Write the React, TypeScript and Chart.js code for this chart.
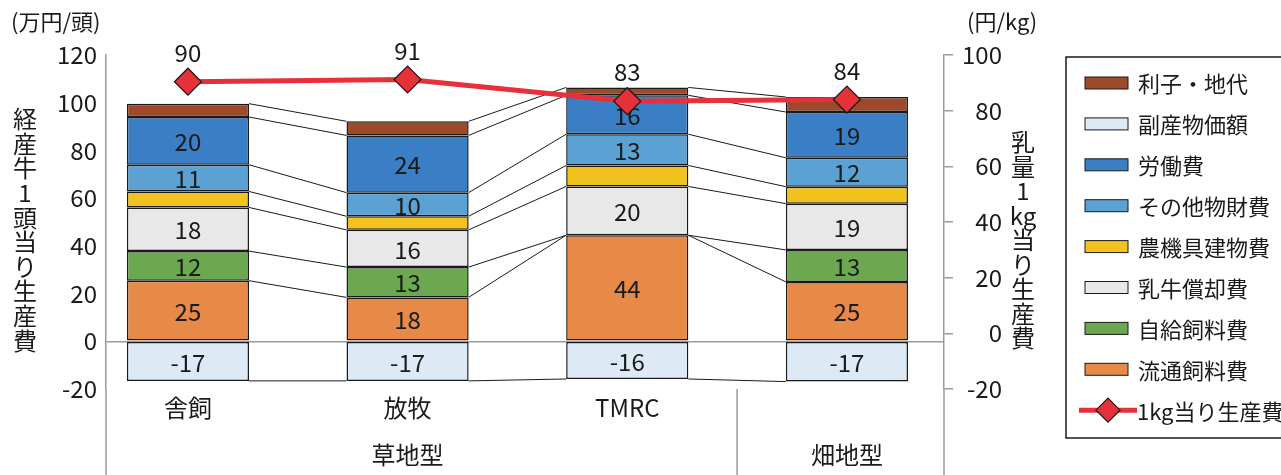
import React, { useEffect, useRef } from 'react';
import { Chart, registerables } from 'chart.js';

Chart.register(...registerables);

// ---------- data ----------
const categories = ['舎飼', '放牧', 'TMRC', ''];
const groupLabels = ['草地型', '畑地型'];
const groupMembers = [[0, 1, 2], [3]];

const purchasedFeed = [25.4, 18.4, 44.45, 24.9]; // 流通飼料費
const ownFeed = [12.4, 12.7, 0, 13.4]; // 自給飼料費
const cowDepreciation = [18.3, 15.6, 20.45, 19.4]; // 乳牛償却費
const machineryBuilding = [6.7, 5.7, 8.8, 7.1]; // 農機具建物費
const otherMaterial = [11.2, 9.9, 13.1, 12.1]; // その他物財費
const labor = [20.0, 24.0, 16.3, 19.2]; // 労働費
const interestRent = [5.6, 5.9, 3.3, 6.3]; // 利子・地代
const byproductValue = [-16.6, -16.6, -15.8, -16.9]; // 副産物価額
const costPerKg = [90.4, 91.2, 83.4, 84.0]; // 1kg当り生産費

const leftRange = [-20, 120];
const rightRange = [-20, 100];
const tickStep = 20;

const leftUnit = '(万円/頭)';
const rightUnit = '(円/kg)';
const leftTitle = '経産牛1頭当り生産費';
const rightTitle = '乳量1kg当り生産費';
const lineName = '1kg当り生産費';

const legendOrder = ['利子・地代', '副産物価額', '労働費', 'その他物財費', '農機具建物費', '乳牛償却費', '自給飼料費', '流通飼料費', lineName];

// ---------- styles ----------
const FONT = '"Noto Sans CJK JP", "Noto Sans", sans-serif';
const TXT = '#1a1a1a';
const AXIS = '#9a9a9a';
const RED = '#E6303A';

const barSeries = [
  { name: '流通飼料費', data: purchasedFeed, color: '#E88A47', showValue: true },
  { name: '自給飼料費', data: ownFeed, color: '#6BA84F', showValue: true },
  { name: '乳牛償却費', data: cowDepreciation, color: '#E8E8E8', showValue: true },
  { name: '農機具建物費', data: machineryBuilding, color: '#F2C31E', showValue: false },
  { name: 'その他物財費', data: otherMaterial, color: '#5BA1D3', showValue: true },
  { name: '労働費', data: labor, color: '#3A7EC5', showValue: true },
  { name: '利子・地代', data: interestRent, color: '#9E4A2A', showValue: false },
  { name: '副産物価額', data: byproductValue, color: '#DDEAF6', showValue: true },
];

const overlay = {
  id: 'overlay',
  beforeDatasetsDraw(chart: any) {
    const ctx = chart.ctx;
    ctx.save();
    ctx.strokeStyle = TXT;
    ctx.lineWidth = 1;
    chart.data.datasets.forEach((ds: any, di: number) => {
      if (ds.type !== 'bar') return;
      const meta = chart.getDatasetMeta(di);
      for (let i = 0; i < meta.data.length - 1; i++) {
        const a = meta.data[i];
        const b = meta.data[i + 1];
        ctx.beginPath();
        ctx.moveTo(a.x + a.width / 2, a.y);
        ctx.lineTo(b.x - b.width / 2, b.y);
        ctx.stroke();
      }
    });
    ctx.restore();
  },
  afterDatasetDraw(chart: any, args: any) {
    const ds = chart.data.datasets[args.index];
    if (ds.type !== 'bar' || !ds.showValue) return;
    const ctx = chart.ctx;
    ctx.save();
    ctx.font = `24px ${FONT}`;
    ctx.fillStyle = TXT;
    ctx.textAlign = 'center';
    ctx.textBaseline = 'middle';
    args.meta.data.forEach((el: any, i: number) => {
      const v = Math.round(ds.data[i].y);
      if (v === 0) return;
      ctx.fillText(String(v), el.x, (el.y + el.base) / 2 + 1);
    });
    ctx.restore();
  },
  afterDatasetsDraw(chart: any) {
    const ctx = chart.ctx;
    ctx.save();
    ctx.font = `24px ${FONT}`;
    ctx.fillStyle = TXT;
    ctx.textAlign = 'center';
    ctx.textBaseline = 'middle';
    chart.data.datasets.forEach((ds: any, di: number) => {
      if (ds.type !== 'line') return;
      chart.getDatasetMeta(di).data.forEach((p: any, i: number) => {
        ctx.fillText(String(Math.round(ds.data[i].y)), p.x, p.y - 29);
      });
    });
    ctx.restore();
  },
  afterDraw(chart: any) {
    const ctx = chart.ctx;
    const area = chart.chartArea;
    const xs = chart.scales.x;
    const H = chart.height;
    ctx.save();
    // axis extensions and group separators
    ctx.strokeStyle = AXIS;
    ctx.lineWidth = 1.5;
    const seps = [area.left, xs.getPixelForValue(2.5), area.right];
    seps.forEach((x) => {
      ctx.beginPath();
      ctx.moveTo(x, area.bottom);
      ctx.lineTo(x, H);
      ctx.stroke();
    });
    // group labels
    ctx.fillStyle = TXT;
    ctx.font = `24px ${FONT}`;
    ctx.textAlign = 'center';
    ctx.textBaseline = 'middle';
    groupLabels.forEach((g, gi) => {
      const m = groupMembers[gi];
      const x = m.reduce((s, i) => s + xs.getPixelForValue(i), 0) / m.length;
      ctx.fillText(g, x, 455);
    });
    // units
    ctx.font = `22px ${FONT}`;
    ctx.textAlign = 'left';
    ctx.fillText(leftUnit, 11, 22);
    ctx.fillText(rightUnit, 967, 22);
    // vertical titles
    ctx.font = `24px ${FONT}`;
    ctx.textAlign = 'center';
    const lchars = leftTitle.match(/[A-Za-z]+|./gu) || [];
    lchars.forEach((c, i) => ctx.fillText(c, 25, 119 + i * 24.6));
    const rchars = rightTitle.match(/[A-Za-z]+|./gu) || [];
    rchars.forEach((c, i) => ctx.fillText(c, 1023, 142 + i * 24.5));
    // legend
    ctx.strokeStyle = TXT;
    ctx.lineWidth = 1.5;
    ctx.strokeRect(1066, 57, 300, 381);
    ctx.font = `22px ${FONT}`;
    ctx.textAlign = 'left';
    legendOrder.forEach((name, i) => {
      const y = 83 + i * 40.9;
      const ds = chart.data.datasets.find((d: any) => d.label === name);
      if (!ds) return;
      if (ds.type === 'bar') {
        ctx.fillStyle = ds.backgroundColor;
        ctx.fillRect(1085, y - 6, 43, 12);
        ctx.strokeStyle = TXT;
        ctx.lineWidth = 1;
        ctx.strokeRect(1085, y - 6, 43, 12);
      } else {
        ctx.strokeStyle = RED;
        ctx.lineWidth = 5;
        ctx.beginPath();
        ctx.moveTo(1079, y);
        ctx.lineTo(1137, y);
        ctx.stroke();
        ctx.beginPath();
        ctx.moveTo(1108 - 12, y);
        ctx.lineTo(1108, y - 12);
        ctx.lineTo(1108 + 12, y);
        ctx.lineTo(1108, y + 12);
        ctx.closePath();
        ctx.fillStyle = RED;
        ctx.fill();
        ctx.strokeStyle = TXT;
        ctx.lineWidth = 1.2;
        ctx.stroke();
      }
      ctx.fillStyle = TXT;
      ctx.fillText(name, ds.type === 'bar' ? 1138 : 1137, y + 1);
    });
    ctx.restore();
  },
};

export default function App() {
  const ref = useRef<HTMLCanvasElement | null>(null);
  useEffect(() => {
    if (!ref.current) return;
    const datasets: any[] = barSeries.map((s) => ({
      type: 'bar',
      label: s.name,
      data: s.data.map((v, i) => ({ x: i, y: v })),
      backgroundColor: s.color,
      borderColor: TXT,
      borderWidth: 1.5,
      borderSkipped: false,
      barPercentage: 0.556,
      categoryPercentage: 1,
      yAxisID: 'y',
      order: 1,
      showValue: s.showValue,
    }));
    datasets.push({
      type: 'line',
      label: lineName,
      data: costPerKg.map((v, i) => ({ x: i, y: v })),
      borderColor: RED,
      borderWidth: 5,
      pointStyle: 'rectRot',
      pointRadius: 13.5,
      pointBackgroundColor: RED,
      pointBorderColor: TXT,
      pointBorderWidth: 1.2,
      yAxisID: 'y1',
      order: 0,
      stack: 'line',
    });
    const chart = new Chart(ref.current, {
      data: { datasets },
      options: {
        responsive: false,
        animation: false,
        layout: { padding: { top: 55, left: 0, right: 279, bottom: 0 } },
        plugins: { legend: { display: false }, tooltip: { enabled: false } },
        scales: {
          x: {
            type: 'linear',
            offset: false,
            min: -0.373,
            max: 3.442,
            stacked: true,
            afterBuildTicks: (axis: any) => {
              axis.ticks = categories.map((_, i) => ({ value: i }));
            },
            afterFit: (s: any) => {
              s.height = 86;
            },
            grid: { display: false, drawTicks: false, offset: false },
            border: { display: false },
            ticks: {
              autoSkip: false,
              maxRotation: 0,
              padding: 4,
              color: TXT,
              font: { family: FONT, size: 24 },
              callback: (v: any) => categories[v] ?? '',
            },
          },
          y: {
            position: 'left',
            stacked: true,
            min: leftRange[0],
            max: leftRange[1],
            afterFit: (s: any) => {
              s.width = 106;
            },
            ticks: {
              stepSize: tickStep,
              padding: 9,
              color: TXT,
              font: { family: FONT, size: 24 },
            },
            grid: {
              drawTicks: false,
              lineWidth: 1.5,
              color: (c: any) => (c.tick && c.tick.value === 0 ? AXIS : 'rgba(0,0,0,0)'),
            },
            border: { display: true, color: AXIS, width: 1.5 },
          },
          y1: {
            position: 'right',
            stacked: false,
            min: rightRange[0],
            max: rightRange[1],
            afterFit: (s: any) => {
              s.width = 58;
            },
            ticks: {
              stepSize: tickStep,
              padding: 4,
              crossAlign: 'far',
              color: TXT,
              font: { family: FONT, size: 24 },
            },
            grid: {
              drawOnChartArea: false,
              drawTicks: true,
              tickLength: 9,
              lineWidth: 1.5,
              color: AXIS,
            },
            border: { display: true, color: AXIS, width: 1.5 },
          },
        },
      } as any,
      plugins: [overlay],
    } as any);
    return () => chart.destroy();
  }, []);
  return (
    <div style={{ position: 'absolute', left: 0, top: 0, width: 1281, height: 475, background: '#fff' }}>
      <canvas ref={ref} width={1281} height={475} style={{ display: 'block' }} />
    </div>
  );
}
